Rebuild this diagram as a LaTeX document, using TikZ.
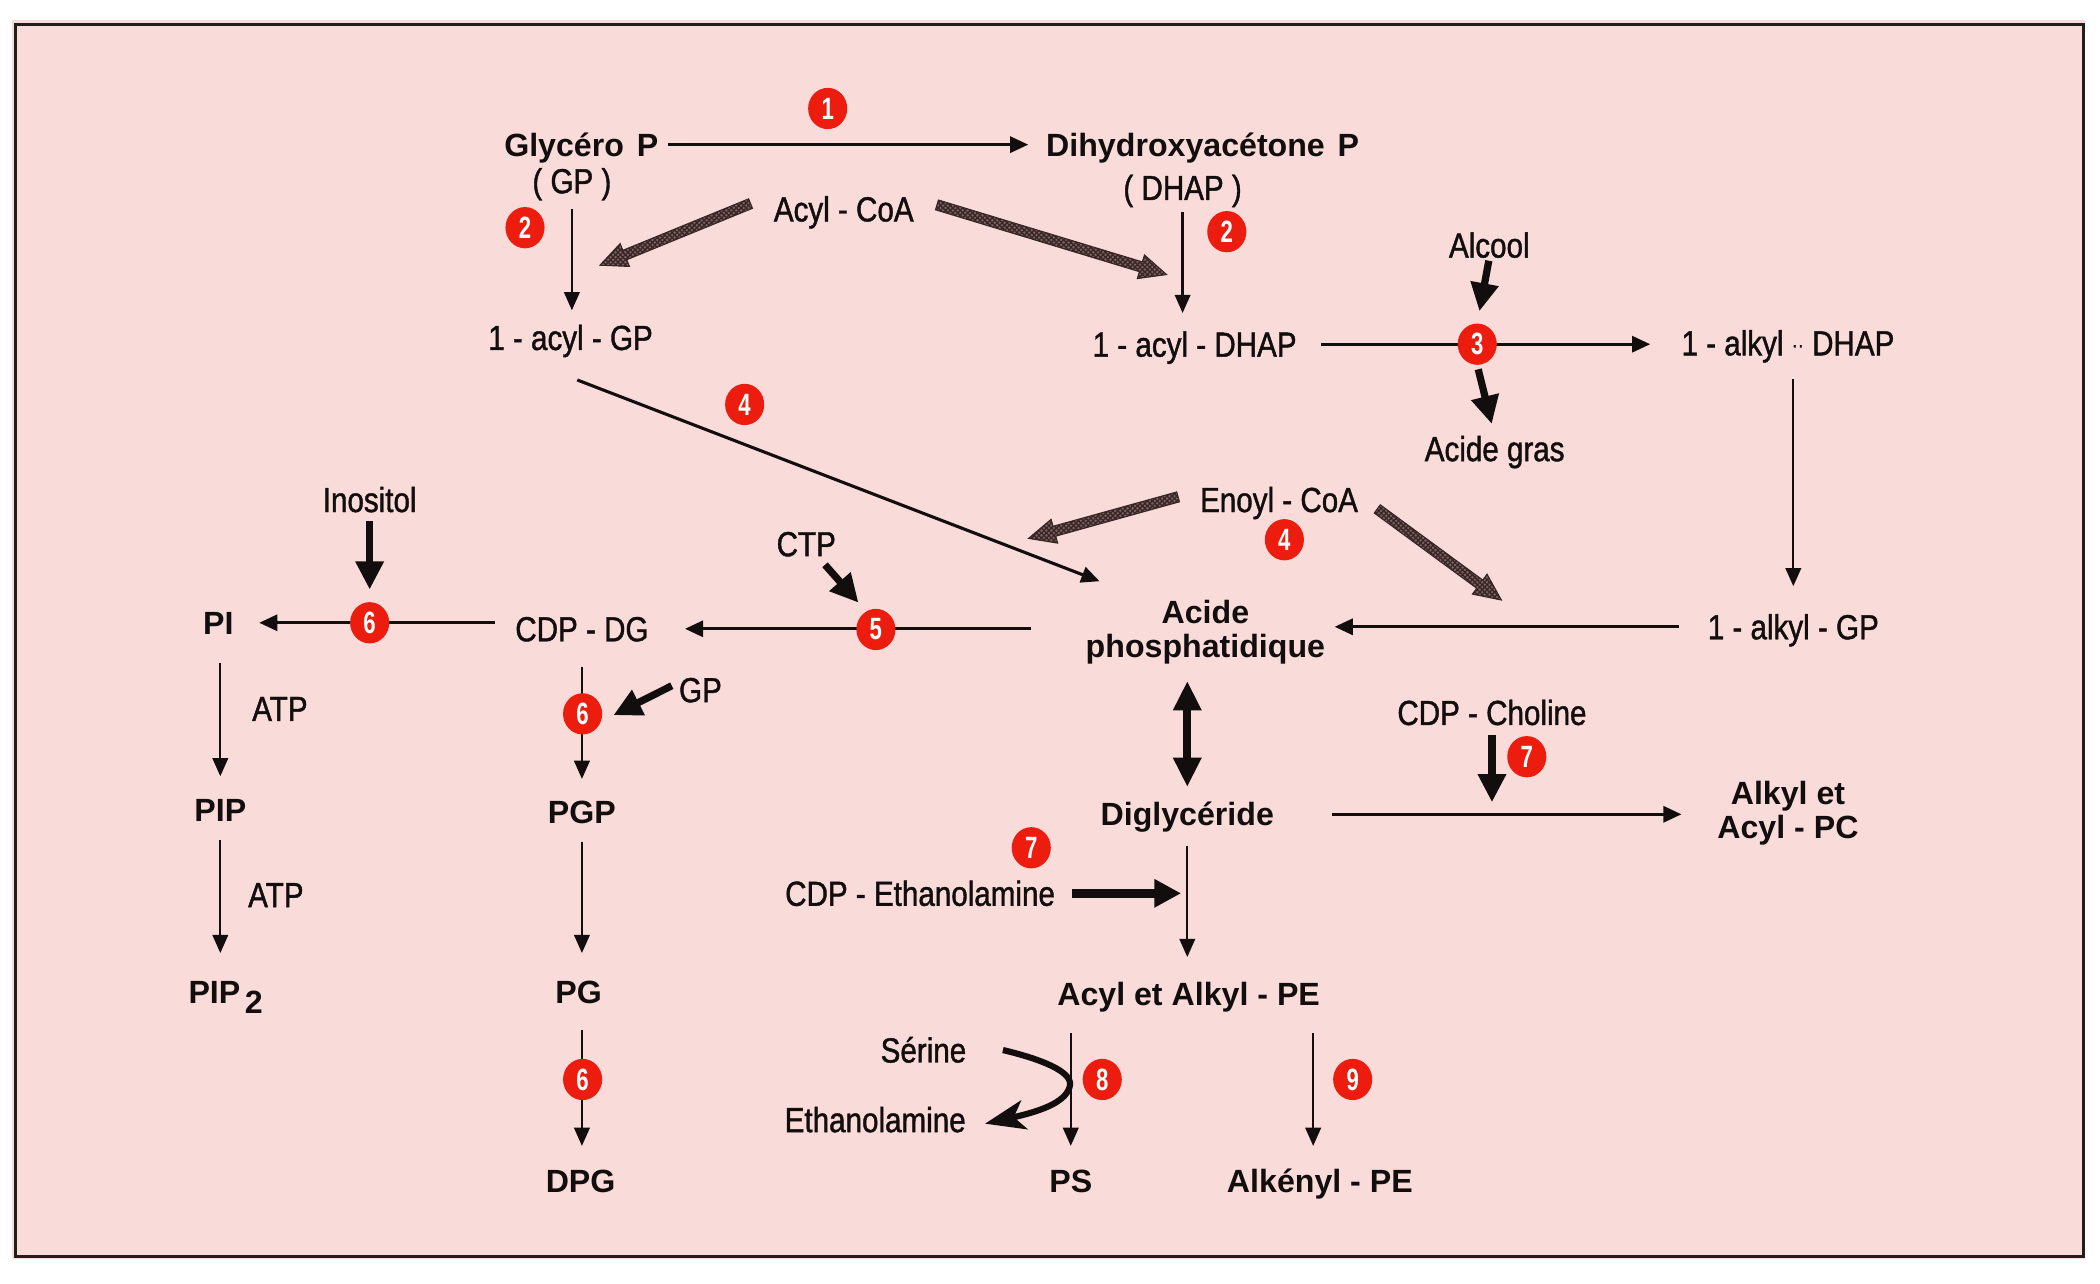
\documentclass[tikz,border=0pt]{standalone}
\usepackage{fontspec}
\setmainfont{Liberation Sans}
\newfontfamily\cfont{Liberation Sans}[FakeStretch=0.85,FakeBold=1.2]
\newfontfamily\dfont{Liberation Sans}[FakeStretch=0.72]
\usetikzlibrary{arrows.meta,calc,shapes.geometric,patterns.meta}
\pgfdeclarelayer{bg}
\pgfsetlayers{bg,main}
\definecolor{bgpink}{RGB}{249,219,217}
\definecolor{ink}{RGB}{18,14,14}
\definecolor{framecol}{RGB}{35,30,30}
\definecolor{badgered}{RGB}{236,28,14}
\definecolor{hatchbase}{RGB}{128,98,96}
\definecolor{hatchline}{RGB}{55,38,38}
\newcommand\hatcharrow[2]{%
  \coordinate (hh) at ($(#2)!10pt!(#1)$);
  \path[hatchfill] ($(#1)!1.9pt!90:(#2)$) -- ($(hh)!1.9pt!90:(#2)$) -- ($(hh)!4.6pt!90:(#2)$) -- (#2)
    -- ($(hh)!4.6pt!-90:(#2)$) -- ($(hh)!1.9pt!-90:(#2)$) -- ($(#1)!1.9pt!-90:(#2)$) -- cycle;}
\begin{document}
\begin{tikzpicture}[x=0.5pt,y=-0.5pt,
  rt/.style={font=\cfont\fontsize{13}{15}\selectfont, inner sep=0pt, text height=9.3pt, text depth=0pt, text=ink},
  bt/.style={font=\bfseries\fontsize{12}{12.5}\selectfont, inner sep=0pt, text height=8.6pt, text depth=0pt, text=ink},
  bt2/.style={font=\bfseries\fontsize{12}{12.5}\selectfont, inner sep=0pt, align=center, text=ink},
  badge/.style={ellipse, fill=badgered, inner sep=0pt, minimum width=14.6pt, minimum height=15.4pt, text=white,
    font=\dfont\bfseries\fontsize{11.5}{12}\selectfont},
  ln/.style={line width=0.85pt, draw=ink, -{Triangle[length=6.8pt,width=5.8pt]}},
  lnm/.style={line width=1.15pt, draw=ink, -{Triangle[length=6.8pt,width=6pt]}},
  thickarr/.style={line width=2.7pt, draw=ink, -{Triangle[length=10.5pt,width=10pt]}},
  thickarrb/.style={line width=3.2pt, draw=ink, -{Triangle[length=10pt,width=10pt]}},
  dblarr/.style={line width=3pt, draw=ink, {Triangle[length=11pt,width=10pt]}-{Triangle[length=11pt,width=10pt]}},
  curvarr/.style={line width=2.3pt, draw=ink, -{Stealth[length=15pt,width=11pt,inset=4pt]}},
  hatchfill/.style={fill=hatchbase, draw=hatchline, line width=0.4pt,
    postaction={pattern={Lines[angle=45,distance=1.3pt,line width=0.5pt]}, pattern color=hatchline},
    postaction={pattern={Lines[angle=-45,distance=1.3pt,line width=0.5pt]}, pattern color=hatchline}}
]
\useasboundingbox (0,0) rectangle (1568,958.7);

% ---- text nodes (regular) ----
\node[rt] (gpp) at (427,135) {( GP )};
\node[rt] (dhapp) at (883,140) {( DHAP )};
\node[rt] (acoa) at (630,156) {Acyl - CoA};
\node[rt] (agp) at (426,252) {1 - acyl - GP};
\node[rt] (adhap) at (892,257) {1 - acyl - DHAP};
\node[rt] (alcool) at (1112,183) {Alcool};
\node[rt] (agras) at (1116,335) {Acide gras};
\node[rt] (aldhap) at (1335,256) {1 - alkyl {\fontsize{8}{8}\selectfont\raisebox{1.2pt}{··}} DHAP};
\node[rt] (enoyl) at (955,373) {Enoyl - CoA};
\node[rt] (algp) at (1339,468) {1 - alkyl - GP};
\node[rt] (inos) at (276,373) {Inositol};
\node[rt] (ctp) at (602,406) {CTP};
\node[rt] (cdpdg) at (434.5,469.5) {CDP - DG};
\node[rt] (gpb) at (523,515) {GP};
\node[rt] (atpa) at (209,529) {ATP};
\node[rt] (atpb) at (206,668) {ATP};
\node[rt] (chol) at (1114,532) {CDP - Choline};
\node[rt] (ceth) at (687,667) {CDP - Ethanolamine};
\node[rt] (ser) at (689.5,784) {Sérine};
\node[rt] (etha) at (653.5,836) {Ethanolamine};

% ---- text nodes (bold) ----
\node[bt] (glyp) at (434,108) {Glycéro\hspace{0.4em}P};
\node[bt] (dhap) at (898,108) {Dihydroxyacétone\hspace{0.4em}P};
\node[bt2] (apa) at (900,472) {Acide\\phosphatidique};
\node[bt] (pi) at (163,465) {PI};
\node[bt] (pip) at (164.5,605) {PIP};
\node[bt] (pip2) at (168.5,741) {PIP\hspace{1.7pt}\raisebox{-3.5pt}{2}};
\node[bt] (pgp) at (434.5,606) {PGP};
\node[bt] (pg) at (432,741) {PG};
\node[bt] (dpg) at (433.5,882) {DPG};
\node[bt] (dig) at (886.5,608) {Diglycéride};
\node[bt2] (apc) at (1335,607) {Alkyl et\\Acyl - PC};
\node[bt] (ape) at (887.5,742) {Acyl et Alkyl - PE};
\node[bt] (ps) at (799.5,882) {PS};
\node[bt] (alk) at (985.5,882) {Alkényl - PE};

% ---- badges ----
\node[badge] (b1) at (618,81) {1};
\node[badge] (b2a) at (392,170) {2};
\node[badge] (b2b) at (916,173) {2};
\node[badge] (b3) at (1103,257) {3};
\node[badge] (b4a) at (556,302) {4};
\node[badge] (b4b) at (959,403) {4};
\node[badge] (b5) at (654,470) {5};
\node[badge] (b6a) at (276,465) {6};
\node[badge] (b6b) at (435,533) {6};
\node[badge] (b6c) at (435,806) {6};
\node[badge] (b7a) at (1140,565) {7};
\node[badge] (b7b) at (770,633) {7};
\node[badge] (b8) at (823,806) {8};
\node[badge] (b9) at (1010,806) {9};

% ---- free ends ----
\coordinate (s4) at ($(agp.south)+(5,22)$);
\coordinate (t4) at (821,434);
\coordinate (ha1) at ($(acoa.west)+(-17,-4)$);
\coordinate (ha1t) at (448,198);
\coordinate (ha2) at ($(acoa.east)+(17,-3)$);
\coordinate (ha2t) at (871,205);
\coordinate (he1) at ($(enoyl.west)+(-16,-2)$);
\coordinate (he1t) at (768,402);
\coordinate (he2) at ($(enoyl.east)+(14,7)$);
\coordinate (he2t) at (1121,448);

\begin{pgfonlayer}{bg}
\fill[white] (0,0) rectangle (1568,958.7);
\fill[bgpink] (9,15) rectangle (1557,940);
\draw[line width=1pt, draw=framecol] (11.5,18.5) rectangle (1555.5,938);

% top
\draw[lnm, shorten <=3.5pt, shorten >=6.5pt] (glyp.east) -- (dhap.west);
\draw[ln, shorten <=5.8pt, shorten >=5.3pt] (gpp.south) -- (gpp.south |- agp.north);
\draw[ln, shorten <=4.3pt, shorten >=6.8pt] (dhapp.south) -- (dhapp.south |- adhap.north);
\hatcharrow{ha1}{ha1t}
\hatcharrow{ha2}{ha2t}
% alkyl branch
\draw[lnm, shorten <=9pt, shorten >=11.5pt] (adhap.east) -- (adhap.east -| aldhap.west);
\draw[thickarr, shorten <=1pt, shorten >=4.5pt] (alcool.south) -- (b3.north);
\draw[thickarr, shorten <=1.5pt, shorten >=4.5pt] (b3.south) -- (agras.north);
\draw[ln, shorten <=8.8pt, shorten >=10.3pt] (algp.north |- aldhap.south) -- (algp.north);
\draw[lnm, shorten <=10.5pt, shorten >=3.4pt] (algp.west) -- (algp.west -| apa.east);
% acyl GP -> acide phosphatidique
\draw[lnm] (s4) -- (t4);
\hatcharrow{he1}{he1t}
\hatcharrow{he2}{he2t}
% CDP-DG branch
\draw[thickarr] ($(ctp.south)+(14,6)$) -- ($(b5)+(-13,-20)$);
\draw[lnm, shorten <=20.3pt, shorten >=13.4pt] (cdpdg.east -| apa.west) -- (cdpdg.east);
\draw[lnm, shorten <=7.4pt, shorten >=9.4pt] (pi.east -| cdpdg.west) -- (pi.east);
\draw[thickarr, shorten <=3.3pt, shorten >=4.5pt] (inos.south) -- (inos.south |- b6a.north);
\draw[ln, shorten <=10.7pt, shorten >=8.2pt] (pip.north |- pi.south) -- (pip.north);
\draw[ln, shorten <=6.7pt, shorten >=10.2pt] (pip.south) -- (pip.south |- pip2.north);
\draw[ln, shorten <=9.3pt, shorten >=7.7pt] (cdpdg.south) -- (cdpdg.south |- pgp.north);
\draw[thickarr] ($(gpb.west)+(-5,-3)$) -- ($(b6b)+(23,1)$);
\draw[ln, shorten <=6.7pt, shorten >=10.2pt] (pgp.south) -- (pgp.south |- pg.north);
\draw[ln, shorten <=9.7pt, shorten >=8.7pt] (pgp.south |- pg.south) -- (pgp.south |- dpg.north);
% diglyceride branch
\draw[dblarr, shorten <=6.2pt, shorten >=5.7pt] (apa.south -| dig.north) -- (dig.north);
\draw[lnm, shorten <=21.4pt, shorten >=13.2pt] (dig.east) -- (dig.east -| apc.west);
\draw[thickarr, shorten <=3.4pt, shorten >=4.5pt] (chol.south) -- (chol.south |- dig.east);
\draw[ln, shorten <=7.2pt, shorten >=9.2pt] (dig.south) -- (dig.south |- ape.north);
\draw[thickarrb, shorten <=6.1pt, shorten >=2.3pt] (ceth.east) -- (ceth.east -| dig.south);
\draw[ln, shorten <=10.2pt, shorten >=8.7pt] (ps.north |- ape.south) -- (ps.north);
\draw[ln, shorten <=10.2pt, shorten >=8.7pt] ($(alk.north |- ape.south)+(-5,0)$) -- ($(alk.north)+(-5,0)$);
\draw[curvarr] ($(ser.east)+(27,0)$) .. controls (778,791) and (800,800) .. (799,810)
   .. controls (797,822) and (780,829) .. ($(etha.east)+(14,3)$);
\end{pgfonlayer}
\end{tikzpicture}
\end{document}
